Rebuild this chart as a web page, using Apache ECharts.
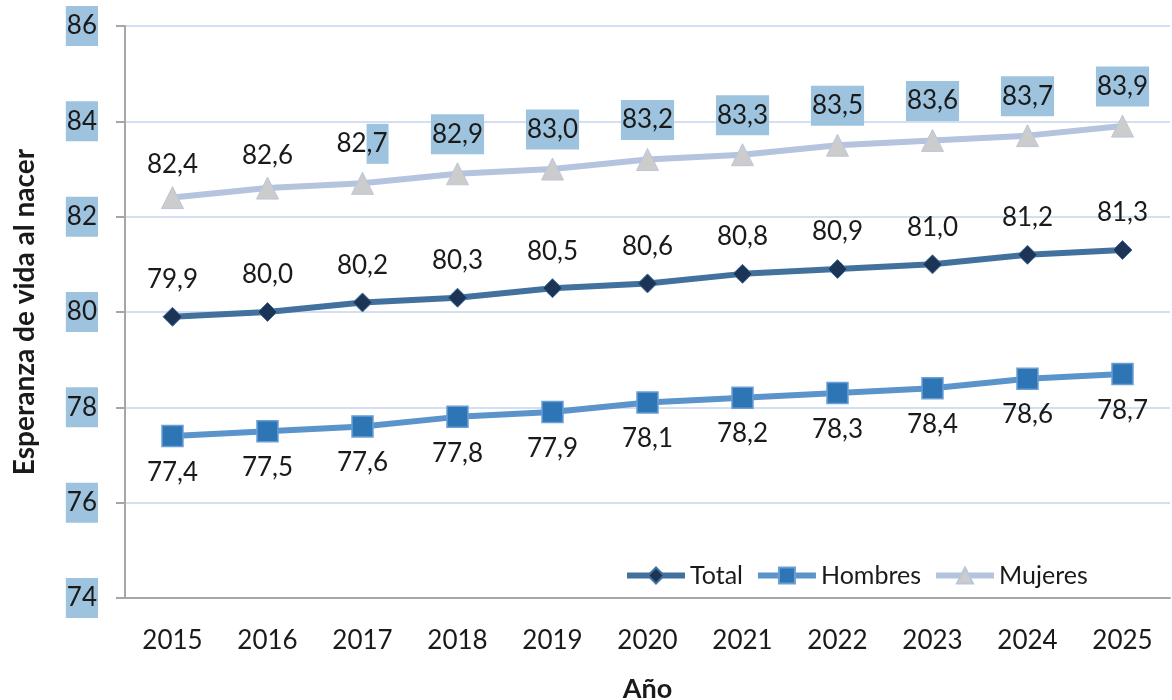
<!DOCTYPE html>
<html><head><meta charset="utf-8">
<script src="https://cdn.jsdelivr.net/npm/echarts@6/dist/echarts.min.js"></script>
<style>html,body{margin:0;padding:0;background:#fff}#c{width:1172px;height:700px}</style>
</head><body><div id="c"></div>
<script>
const years = ['2015','2016','2017','2018','2019','2020','2021','2022','2023','2024','2025'];
const total = [79.9,80.0,80.2,80.3,80.5,80.6,80.8,80.9,81.0,81.2,81.3];
const hombres = [77.4,77.5,77.6,77.8,77.9,78.1,78.2,78.3,78.4,78.6,78.7];
const mujeres = [82.4,82.6,82.7,82.9,83.0,83.2,83.3,83.5,83.6,83.7,83.9];
const yTicks = [74,76,78,80,82,84,86];

const FONT = 'Lato, "Open Sans", sans-serif';
const BG = '#9DC3DF';
const FS = 26;
const fmt = v => v.toFixed(1).replace('.', ',');

const chart = echarts.init(document.getElementById('c'));
chart.setOption({
  animation: false,
  textStyle: { fontFamily: FONT },
  grid: { left: 125, right: 2, top: 26, bottom: 102, outerBoundsMode: 'none', containLabel: false },
  legend: {
    left: 624, top: 563, padding: 0,
    itemWidth: 58, itemHeight: 20, itemGap: 12,
    lineStyle: { width: 6 },
    textStyle: { fontSize: 25, color: '#1a1a1a', fontFamily: FONT },
    data: ['Total','Hombres','Mujeres']
  },
  xAxis: {
    type: 'category', data: years, boundaryGap: true,
    name: 'Año', nameLocation: 'middle', nameGap: 78,
    nameTextStyle: { fontSize: 27, fontWeight: 'bold', color: '#1a1a1a', fontFamily: FONT },
    axisLine: { lineStyle: { color: '#A6A6A6', width: 2 } },
    axisTick: { show: false },
    axisLabel: { fontSize: FS, color: '#1a1a1a', margin: 30 }
  },
  yAxis: {
    type: 'value', min: 74, max: 86, interval: 2,
    name: 'Esperanza de vida al nacer', nameLocation: 'middle', nameGap: 86,
    nameTextStyle: { fontSize: 28, fontWeight: 'bold', color: '#1a1a1a', fontFamily: FONT },
    axisLine: { show: true, lineStyle: { color: '#A6A6A6', width: 2 } },
    axisTick: { show: true, inside: false, length: 9, lineStyle: { color: '#A6A6A6', width: 2 } },
    splitLine: { lineStyle: { color: '#C6D5EC', width: 1.5 } },
    axisLabel: {
      fontSize: FS, color: '#1a1a1a', margin: 27,
      backgroundColor: BG, padding: [7, 1, 7, 1],
      formatter: v => yTicks.includes(v) ? String(v) : ''
    }
  },
  series: [
    {
      name: 'Total', type: 'line', data: total,
      symbol: 'diamond', symbolSize: 19,
      lineStyle: { color: '#41719C', width: 6 },
      itemStyle: { color: '#1C3557', borderColor: '#41719C', borderWidth: 1 },
      label: { show: true, position: 'top', distance: 14, fontSize: FS, color: '#1a1a1a', formatter: p => fmt(p.value) },
      z: 3
    },
    {
      name: 'Hombres', type: 'line', data: hombres,
      symbol: 'rect', symbolSize: 21,
      lineStyle: { color: '#5B94CB', width: 6 },
      itemStyle: { color: '#2E75B6', borderColor: '#6A9FD4', borderWidth: 1.5 },
      label: { show: true, position: 'bottom', distance: 12, fontSize: FS, color: '#1a1a1a', formatter: p => fmt(p.value) },
      z: 3
    },
    {
      name: 'Mujeres', type: 'line', data: mujeres.map((v, i) => {
        const item = { value: v };
        if (i >= 3) {
          item.label = { backgroundColor: BG, padding: [7, 1, 7, 1] };
        }
        return item;
      }),
      symbol: 'triangle', symbolSize: 22,
      lineStyle: { color: '#B4C3DE', width: 6 },
      itemStyle: { color: '#CCCCCC', borderColor: '#BBC6DA', borderWidth: 1 },
      label: {
        show: true, position: 'top', distance: 8, fontSize: FS, color: '#1a1a1a',
        formatter: p => {
          const s = fmt(p.value);
          if (p.dataIndex === 2) return '{a|' + s.slice(0, 2) + '}{b|' + s.slice(2) + '}';
          return s;
        },
        rich: {
          a: { fontSize: FS, color: '#1a1a1a', padding: [7, 0, 7, 0] },
          b: { fontSize: FS, color: '#1a1a1a', backgroundColor: BG, padding: [7, 1, 7, 0] }
        }
      },
      z: 3
    }
  ]
});
</script>
</body></html>
